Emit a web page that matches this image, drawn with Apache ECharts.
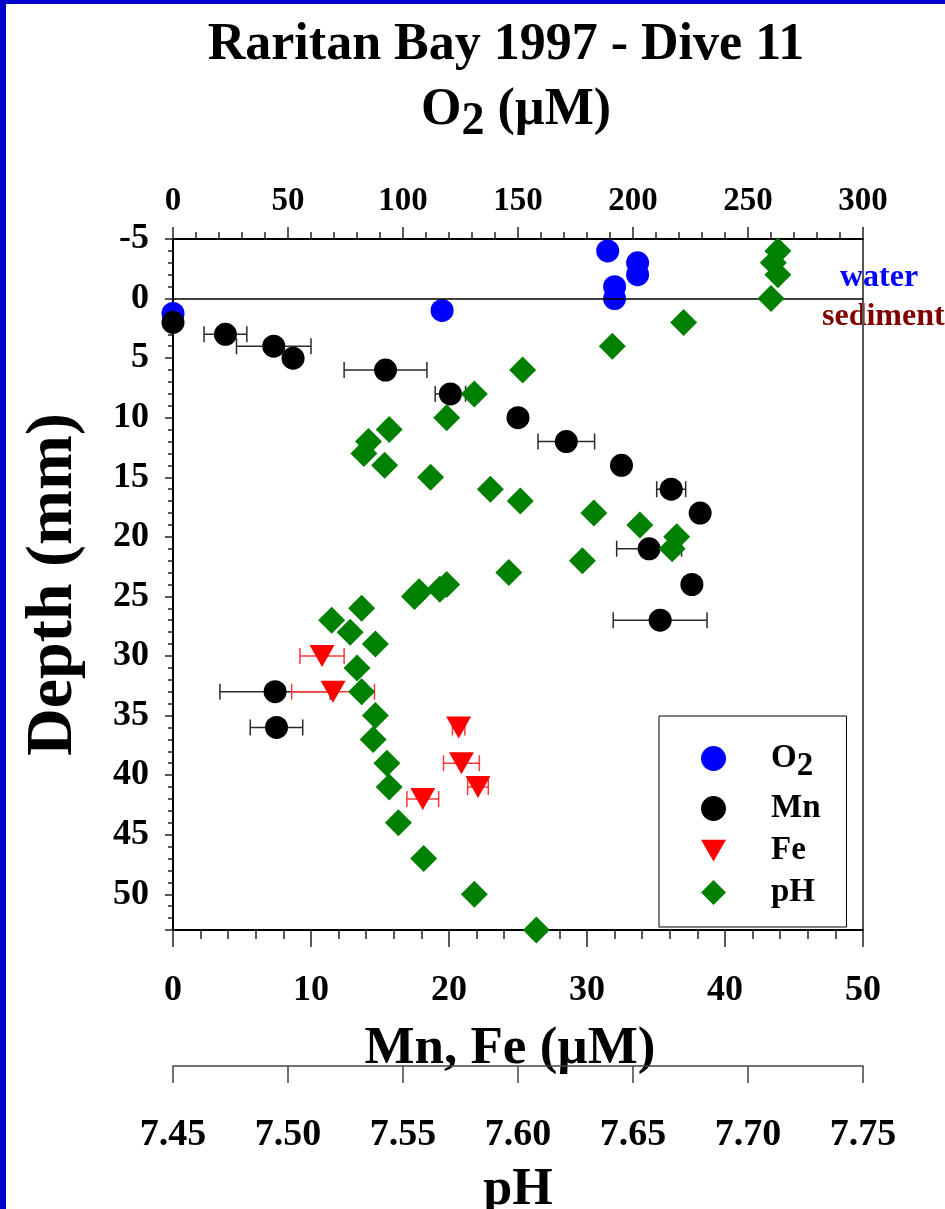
<!DOCTYPE html>
<html>
<head>
<meta charset="utf-8">
<title>Raritan Bay 1997 - Dive 11</title>
<script src="https://cdn.jsdelivr.net/npm/echarts@6/dist/echarts.min.js"></script>
<style>
  html, body { margin: 0; padding: 0; background: #ffffff; }
  #chart { width: 945px; height: 1209px; }
</style>
</head>
<body>
<div id="chart"></div>
<script>
// Oxygen profile (µM) against depth (mm)
const o2Depth = [-4, -3, -2, -1, 0, 1, 1.25];
const o2Value = [189, 202, 202, 192, 192, 117, 0];

// Dissolved manganese (µM) with ± error
const mnDepth = [2, 3, 4, 5, 6, 8, 10, 12, 14, 16, 18, 21, 24, 27, 33, 36];
const mnValue = [0, 3.8, 7.3, 8.7, 15.4, 20.1, 25.0, 28.5, 32.5, 36.1, 38.2, 34.5, 37.6, 35.3, 7.4, 7.5];
const mnError = [0, 1.55, 2.7, 0, 3.0, 1.1, 0, 2.05, 0, 1.05, 0, 2.35, 0, 3.4, 4.0, 1.9];

// Dissolved iron (µM) with ± error
const feDepth = [30, 33, 36, 39, 41, 42];
const feValue = [10.8, 11.6, 20.7, 20.9, 22.1, 18.1];
const feError = [1.6, 3.0, 0.45, 1.3, 0.75, 1.15];

// pH profile
const phDepth = [-4, -3, -2, 0, 2, 4, 6, 8, 10, 11, 12, 13, 14, 15, 16, 17, 18, 19, 20, 21, 22, 23, 24, 24.4, 24.6, 25,
                 26, 27, 28, 29, 31, 33, 35, 37, 39, 41, 44, 47, 50, 53];
const phValue = [7.713, 7.711, 7.713, 7.710, 7.672, 7.641, 7.602, 7.581, 7.569, 7.544, 7.535, 7.533, 7.542, 7.562,
                 7.588, 7.601, 7.633, 7.653, 7.669, 7.667, 7.628, 7.596, 7.569, 7.566, 7.557, 7.555,
                 7.532, 7.519, 7.527, 7.538, 7.530, 7.532, 7.538, 7.537, 7.543, 7.544, 7.548, 7.559, 7.581, 7.608];

const legendNames = ['O2', 'Mn', 'Fe', 'pH'];

const FONT = "'Liberation Serif', 'Times New Roman', serif";
const downTriangle = 'path://M0,0 L10,0 L5,8.7 Z';

const pairs = (xs, ys) => xs.map((x, i) => [x, ys[i]]);
const errorRows = (vals, errs, depths) =>
  vals.map((v, i) => [v - errs[i], v + errs[i], depths[i]]).filter((r, i) => errs[i] > 0);

function errorBar(color, cap) {
  return function (params, api) {
    const d = api.value(2);
    const a = api.coord([api.value(0), d]);
    const b = api.coord([api.value(1), d]);
    const st = { stroke: color, lineWidth: 1.5 };
    return {
      type: 'group',
      children: [
        { type: 'line', shape: { x1: a[0], y1: a[1], x2: b[0], y2: b[1] }, style: st },
        { type: 'line', shape: { x1: a[0], y1: a[1] - cap, x2: a[0], y2: a[1] + cap }, style: st },
        { type: 'line', shape: { x1: b[0], y1: b[1] - cap, x2: b[0], y2: b[1] + cap }, style: st }
      ]
    };
  };
}

const tickFont = (size) => ({ fontFamily: FONT, fontWeight: 'bold', fontSize: size, color: '#000' });

const chart = echarts.init(document.getElementById('chart'), null, { renderer: 'canvas' });

chart.setOption({
  animation: false,
  backgroundColor: '#ffffff',
  grid: { left: 173, top: 239, width: 690, height: 691, containLabel: false, outerBoundsMode: 'none' },
  graphic: [
    { type: 'rect', shape: { x: 0, y: 0, width: 6, height: 1209 }, style: { fill: '#0000cc' } },
    { type: 'rect', shape: { x: 0, y: 0, width: 945, height: 4 }, style: { fill: '#0000cc' } },
    {
      type: 'text', x: 506, y: 46,
      style: { text: 'Raritan Bay 1997 - Dive 11', fill: '#000', font: "bold 52px " + FONT,
               textAlign: 'center', textVerticalAlign: 'middle' }
    },
    {
      type: 'text', x: 516, y: 111,
      style: {
        text: '{o|O}{s|2}{o| (µM)}', textAlign: 'center', textVerticalAlign: 'middle', fill: '#000',
        rich: {
          o: { fontFamily: FONT, fontWeight: 'bold', fontSize: 52, fill: '#000' },
          s: { fontFamily: FONT, fontWeight: 'bold', fontSize: 46, fill: '#000', padding: [22, 0, 0, 0] }
        }
      }
    },
    {
      type: 'text', x: 840, y: 278,
      style: { text: 'water', fill: '#0000ff', font: "bold 32px " + FONT, textAlign: 'left', textVerticalAlign: 'middle' }
    },
    {
      type: 'text', x: 822, y: 317,
      style: { text: 'sediment', fill: '#800000', font: "bold 32px " + FONT, textAlign: 'left', textVerticalAlign: 'middle' }
    }
  ],
  legend: {
    orient: 'vertical',
    left: 659, top: 716,
    padding: [26, 26, 18, 42],
    itemWidth: 25, itemHeight: 25, itemGap: 9,
    borderColor: '#000', borderWidth: 1, backgroundColor: '#ffffff',
    data: legendNames,
    formatter: (n) => (n === 'O2' ? '{t|O}{s|2}' : '{t|' + n + '}'),
    textStyle: {
      fontFamily: FONT, fontWeight: 'bold', fontSize: 33, color: '#000',
      rich: {
        t: { fontFamily: FONT, fontWeight: 'bold', fontSize: 33, color: '#000', padding: [0, 0, 0, 40] },
        s: { fontFamily: FONT, fontWeight: 'bold', fontSize: 33, color: '#000', padding: [16, 0, 0, 0] }
      }
    }
  },
  xAxis: [
    {
      // Mn, Fe concentration
      type: 'value', position: 'bottom', min: 0, max: 50, interval: 10,
      name: 'Mn, Fe (µM)', nameLocation: 'middle', nameGap: 93,
      nameTextStyle: { fontFamily: FONT, fontWeight: 'bold', fontSize: 53, color: '#000', padding: [0, 16, 0, 0] },
      axisLine: { show: true, onZero: false, lineStyle: { color: '#000', width: 2 } },
      axisTick: { show: true, inside: false, length: 17, lineStyle: { color: '#222', width: 1.5 } },
      minorTick: { show: true, splitNumber: 5, length: 9, lineStyle: { color: '#222', width: 1.5 } },
      axisLabel: Object.assign({ margin: 43 }, tickFont(36)),
      splitLine: { show: false }, minorSplitLine: { show: false }
    },
    {
      // O2 concentration
      type: 'value', position: 'top', min: 0, max: 300, interval: 50,
      axisLine: { show: true, onZero: false, lineStyle: { color: '#000', width: 2 } },
      axisTick: { show: true, inside: false, length: 12, lineStyle: { color: '#222', width: 1.5 } },
      minorTick: { show: true, splitNumber: 5, length: 7, lineStyle: { color: '#222', width: 1.5 } },
      axisLabel: Object.assign({ margin: 21 }, tickFont(33)),
      splitLine: { show: false }, minorSplitLine: { show: false }
    },
    {
      // pH
      type: 'value', position: 'bottom', offset: 136, min: 7.45, max: 7.75, interval: 0.05,
      name: 'pH', nameLocation: 'middle', nameGap: 99,
      nameTextStyle: { fontFamily: FONT, fontWeight: 'bold', fontSize: 52, color: '#000' },
      axisLine: { show: true, onZero: false, lineStyle: { color: '#444', width: 1.5 } },
      axisTick: { show: true, inside: false, length: 17, lineStyle: { color: '#444', width: 1.5 } },
      axisLabel: Object.assign({ margin: 50, formatter: (v) => v.toFixed(2) }, tickFont(38)),
      splitLine: { show: false }
    }
  ],
  yAxis: [
    {
      // depth, labelled every 5 mm
      type: 'value', position: 'left', inverse: true, min: -5, max: 53, interval: 5,
      name: 'Depth (mm)', nameLocation: 'middle', nameRotate: 90, nameGap: 86,
      nameTextStyle: { fontFamily: FONT, fontWeight: 'bold', fontSize: 66, color: '#000' },
      axisLine: { show: true, onZero: false, lineStyle: { color: '#000', width: 2 } },
      axisTick: { show: true, inside: false, length: 8, lineStyle: { color: '#222', width: 1.5 } },
      axisLabel: Object.assign({
        margin: 24,
        formatter: (v) => (Math.abs(v % 5) < 1e-9 ? String(v) : '')
      }, tickFont(36)),
      splitLine: { show: false }
    },
    {
      // 1 mm minor ticks on the depth axis
      type: 'value', position: 'left', inverse: true, min: -5, max: 53, interval: 1,
      axisLine: { show: false },
      axisTick: { show: true, inside: false, length: 5, lineStyle: { color: '#222', width: 1.5 } },
      axisLabel: { show: false },
      splitLine: { show: false }
    },
    {
      // right frame edge
      type: 'value', position: 'right', inverse: true, min: -5, max: 53, interval: 5,
      axisLine: { show: true, onZero: false, lineStyle: { color: '#555', width: 2 } },
      axisTick: { show: false }, axisLabel: { show: false }, splitLine: { show: false }
    }
  ],
  series: [
    {
      name: 'Mn error', type: 'custom', xAxisIndex: 0, yAxisIndex: 0, z: 2,
      renderItem: errorBar('#2a2a2a', 8),
      encode: { x: [0, 1], y: 2 },
      data: errorRows(mnValue, mnError, mnDepth)
    },
    {
      name: 'Fe error', type: 'custom', xAxisIndex: 0, yAxisIndex: 0, z: 2,
      renderItem: errorBar('#ff3838', 8),
      encode: { x: [0, 1], y: 2 },
      data: errorRows(feValue, feError, feDepth)
    },
    {
      name: 'O2', type: 'scatter', xAxisIndex: 1, yAxisIndex: 0, z: 3, clip: false,
      symbol: 'circle', symbolSize: 23,
      itemStyle: { color: '#0000ff', opacity: 1 },
      data: pairs(o2Value, o2Depth),
      markLine: {
        silent: true, symbol: ['none', 'none'], label: { show: false },
        lineStyle: { color: '#000', width: 1.5, type: 'solid' },
        data: [{ yAxis: 0 }]
      }
    },
    {
      name: 'Mn', type: 'scatter', xAxisIndex: 0, yAxisIndex: 0, z: 4, clip: false,
      symbol: 'circle', symbolSize: 23,
      itemStyle: { color: '#000000', opacity: 1 },
      data: pairs(mnValue, mnDepth)
    },
    {
      name: 'Fe', type: 'scatter', xAxisIndex: 0, yAxisIndex: 0, z: 4, clip: false,
      symbol: downTriangle, symbolSize: [25, 22],
      itemStyle: { color: '#ff0000', opacity: 1 },
      data: pairs(feValue, feDepth)
    },
    {
      name: 'pH', type: 'scatter', xAxisIndex: 2, yAxisIndex: 0, z: 5, clip: false,
      symbol: 'diamond', symbolSize: 27,
      itemStyle: { color: '#008000', opacity: 1 },
      data: pairs(phValue, phDepth)
    }
  ]
});
</script>
</body>
</html>
